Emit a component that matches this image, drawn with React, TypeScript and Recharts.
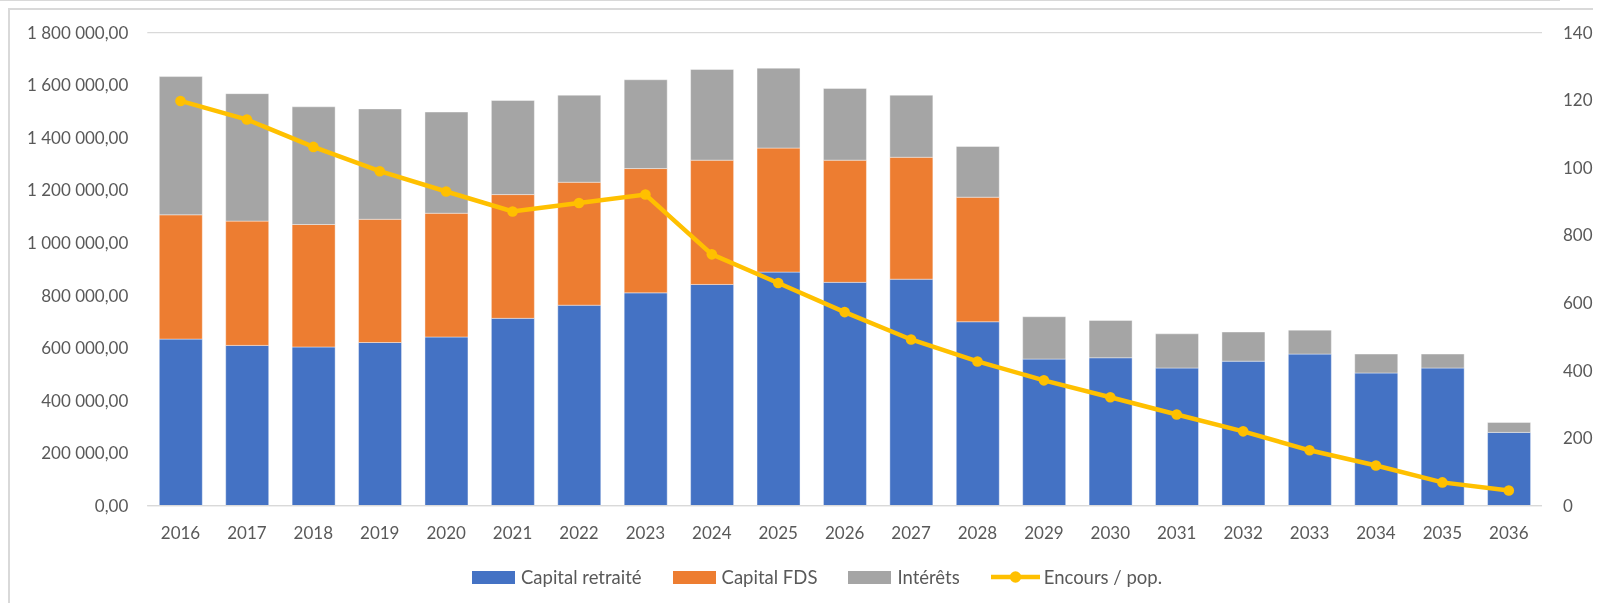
import * as React from "react";
import { Bar, CartesianGrid, ComposedChart, Line, XAxis, YAxis } from "recharts";

const years = [
  "2016", "2017", "2018", "2019", "2020", "2021", "2022", "2023", "2024", "2025", "2026",
  "2027", "2028", "2029", "2030", "2031", "2032", "2033", "2034", "2035", "2036",
];
const capitalRetraite = [
  634000, 610000, 604000, 621000, 642000, 713000, 763000, 810000, 842000, 889000, 850000,
  862000, 700000, 558000, 563000, 524000, 550000, 577000, 505000, 524000, 279000,
];
const capitalFds = [
  473000, 473000, 466000, 469000, 471000, 471000, 468000, 473000, 473000, 472000, 465000,
  464000, 474000, 0, 0, 0, 0, 0, 0, 0, 0,
];
const interets = [
  526000, 485000, 448000, 420000, 385000, 358000, 331000, 338000, 345000, 304000, 273000,
  236000, 193000, 161000, 142000, 130000, 111000, 91000, 72000, 53000, 38000,
];
const encoursPop = [
  1198, 1143, 1062, 990, 930, 871, 896, 921, 744, 659, 573,
  492, 427, 371, 321, 270, 220, 164, 119, 69, 45,
];
const leftTicks = [0, 200000, 400000, 600000, 800000, 1000000, 1200000, 1400000, 1600000, 1800000];
const rightTicks = [0, 200, 400, 600, 800, 1000, 1200, 1400];

const BLUE = "#4472C4";
const ORANGE = "#ED7D31";
const GREY = "#A5A5A5";
const GOLD = "#FFC000";
const TEXT = "#595959";
const GRID = "#D9D9D9";
const FONT = "Lato, 'Open Sans', sans-serif";

const data = years.map((year, i) => ({
  year,
  retraite: capitalRetraite[i],
  fds: capitalFds[i],
  interets: interets[i],
  encours: encoursPop[i],
}));

// 1800000 -> "1 800 000,00"
function formatAmount(v: number) {
  const s = String(Math.round(v));
  return s.replace(/\B(?=(\d{3})+(?!\d))/g, " ") + ",00";
}

const legendItems = [
  { label: "Capital retraité", color: BLUE, kind: "box" },
  { label: "Capital FDS", color: ORANGE, kind: "box" },
  { label: "Intérêts", color: GREY, kind: "box" },
  { label: "Encours / pop.", color: GOLD, kind: "line" },
];

function ChartLegend() {
  return (
    <div
      style={{
        position: "absolute",
        left: 464,
        top: 558,
        display: "flex",
        alignItems: "center",
        gap: 31,
        fontFamily: FONT,
        fontSize: 18.5,
        color: TEXT,
        whiteSpace: "nowrap",
      }}
    >
      {legendItems.map((item) => (
        <div key={item.label} style={{ display: "flex", alignItems: "center", gap: item.kind === "box" ? 6 : 4 }}>
          {item.kind === "box" ? (
            <div style={{ width: 43, height: 13, background: item.color }} />
          ) : (
            <svg width={49} height={14} style={{ display: "block" }}>
              <line x1={0} y1={7} x2={49} y2={7} stroke={item.color} strokeWidth={4.7} />
              <circle cx={24.5} cy={7} r={5.7} fill={item.color} />
            </svg>
          )}
          <span>{item.label}</span>
        </div>
      ))}
    </div>
  );
}

export default function App() {
  return (
    <div style={{ position: "relative", width: 1593, height: 595, overflow: "hidden", background: "#fff" }}>
      <div style={{ position: "fixed", left: 0, top: 0, width: 1560, height: 1, background: GRID }} />
      <div style={{ position: "absolute", left: 0, top: 0, width: 1593, height: 2, background: GRID }} />
      <div style={{ position: "absolute", left: 0, top: 0, width: 2, height: 595, background: GRID }} />
      <ComposedChart
        width={1594}
        height={595}
        data={data}
        margin={{ top: 24.7, right: 0, left: 0, bottom: 57.3 }}
        style={{ fontFamily: FONT }}
      >
        <CartesianGrid vertical={false} stroke={GRID} strokeWidth={1.3} />
        <XAxis
          dataKey="year"
          height={40}
          tickLine={false}
          tickSize={0}
          tickMargin={21}
          axisLine={{ stroke: GRID, strokeWidth: 1.3 }}
          tick={{ fill: TEXT, fontSize: 17 }}
          interval={0}
        />
        <YAxis
          yAxisId="left"
          width={139.3}
          domain={[0, 1800000]}
          ticks={leftTicks}
          tickFormatter={formatAmount}
          tickLine={false}
          axisLine={false}
          tickSize={0}
          tickMargin={19}
          tick={{ fill: TEXT, fontSize: 17 }}
          interval={0}
        />
        <YAxis
          yAxisId="right"
          orientation="right"
          width={60}
          domain={[0, 1400]}
          ticks={rightTicks}
          tickLine={false}
          axisLine={false}
          tickSize={0}
          tickMargin={21}
          tick={{ fill: TEXT, fontSize: 17, textAnchor: "start" }}
          interval={0}
        />
        <Bar yAxisId="left" dataKey="retraite" stackId="a" fill={BLUE} barSize={43} stroke="#ffffff" strokeOpacity={0.5} strokeWidth={0.8} isAnimationActive={false} />
        <Bar yAxisId="left" dataKey="fds" stackId="a" fill={ORANGE} barSize={43} stroke="#ffffff" strokeOpacity={0.5} strokeWidth={0.8} isAnimationActive={false} />
        <Bar yAxisId="left" dataKey="interets" stackId="a" fill={GREY} barSize={43} stroke="#ffffff" strokeOpacity={0.5} strokeWidth={0.8} isAnimationActive={false} />
        <Line
          yAxisId="right"
          dataKey="encours"
          stroke={GOLD}
          strokeWidth={4.5}
          dot={{ r: 5.3, fill: GOLD, stroke: "none" }}
          activeDot={false}
          isAnimationActive={false}
        />
      </ComposedChart>
      <ChartLegend />
    </div>
  );
}
